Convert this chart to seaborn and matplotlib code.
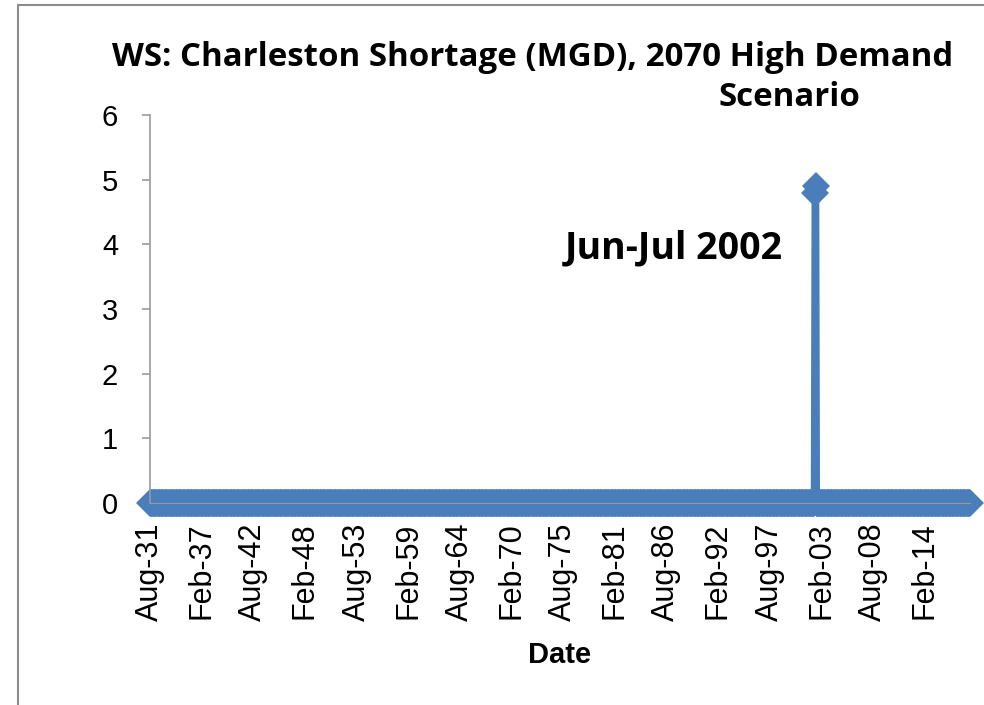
import matplotlib
matplotlib.use("Agg")
import matplotlib.pyplot as plt
from matplotlib.lines import Line2D
import seaborn as sns
import numpy as np
import pandas as pd

# monthly series, Aug 1931 .. Dec 2018
start_month = "1931-08-01"
end_month = "2018-12-01"
# months with a shortage (MGD), everything else is 0
shortage_months = ["2002-06-01", "2002-07-01"]
shortage_values = [4.8, 4.9]
tick_every = 66  # months between category labels

dates = pd.date_range(start_month, end_month, freq="MS")
vals = pd.Series(0.0, index=dates)
for m, v in zip(shortage_months, shortage_values):
    vals[pd.Timestamp(m)] = v

df = pd.DataFrame({"idx": np.arange(len(dates)), "shortage": vals.values})

sns.set_style("white")
plt.rcParams['font.family'] = ['Liberation Sans', 'DejaVu Sans']
plt.rcParams['text.color'] = 'black'
plt.rcParams['xtick.color'] = 'black'
plt.rcParams['ytick.color'] = 'black'
plt.rcParams['axes.labelcolor'] = 'black'

fig = plt.figure(figsize=(9.84, 7.05), dpi=100)
ax = fig.add_axes([0.1524, 0.2865, 0.8333, 0.5505])

blue = "#4a7ebb"
sns.lineplot(data=df, x="idx", y="shortage", ax=ax, color=blue, linewidth=5,
             marker="D", markersize=14, markeredgewidth=0, clip_on=False)

ax.set_xlim(0, len(dates) - 1)
ax.set_ylim(0, 6)
ax.set_yticks(range(0, 7))
ax.tick_params(axis="y", labelsize=21, direction="out", length=6, width=1.2,
               color="#9a9a9a", labelcolor="black", left=True, pad=17)

tick_pos = np.arange(0, len(dates), tick_every)
ax.set_xticks(tick_pos)
ax.set_xticklabels([dates[i].strftime("%b-%y") for i in tick_pos],
                   rotation=90, fontsize=22)
ax.tick_params(axis="x", length=0, pad=14)

for s in ["top", "right"]:
    ax.spines[s].set_visible(False)
ax.spines["left"].set_color("#9a9a9a")
ax.spines["left"].set_linewidth(1.2)
ax.spines["bottom"].set_color("#9a9a9a")

ax.set_xlabel("Date", fontsize=21, fontweight="bold", labelpad=14)
ax.set_ylabel("")

title_font = ['Open Sans', 'DejaVu Sans']
fig.text(0.541, 0.918, "WS: Charleston Shortage (MGD), 2070 High Demand",
         ha="center", va="center", fontsize=23.8, fontweight="bold", family=title_font)
fig.text(0.802, 0.861, "Scenario", ha="center", va="center",
         fontsize=23.8, fontweight="bold", family=title_font)
ax.text(0.639, 0.657, "Jun-Jul 2002", transform=ax.transAxes, ha="center", va="center",
        fontsize=27, fontweight="bold", family=title_font)

# chart border (left and top edge visible in the crop)
fig.add_artist(Line2D([0.0183, 0.0183], [0, 0.993], transform=fig.transFigure,
                      color="#8c8c8c", linewidth=1.5))
fig.add_artist(Line2D([0.0183, 1.0], [0.993, 0.993], transform=fig.transFigure,
                      color="#8c8c8c", linewidth=1.5))

fig.savefig("out.png", dpi=100)
